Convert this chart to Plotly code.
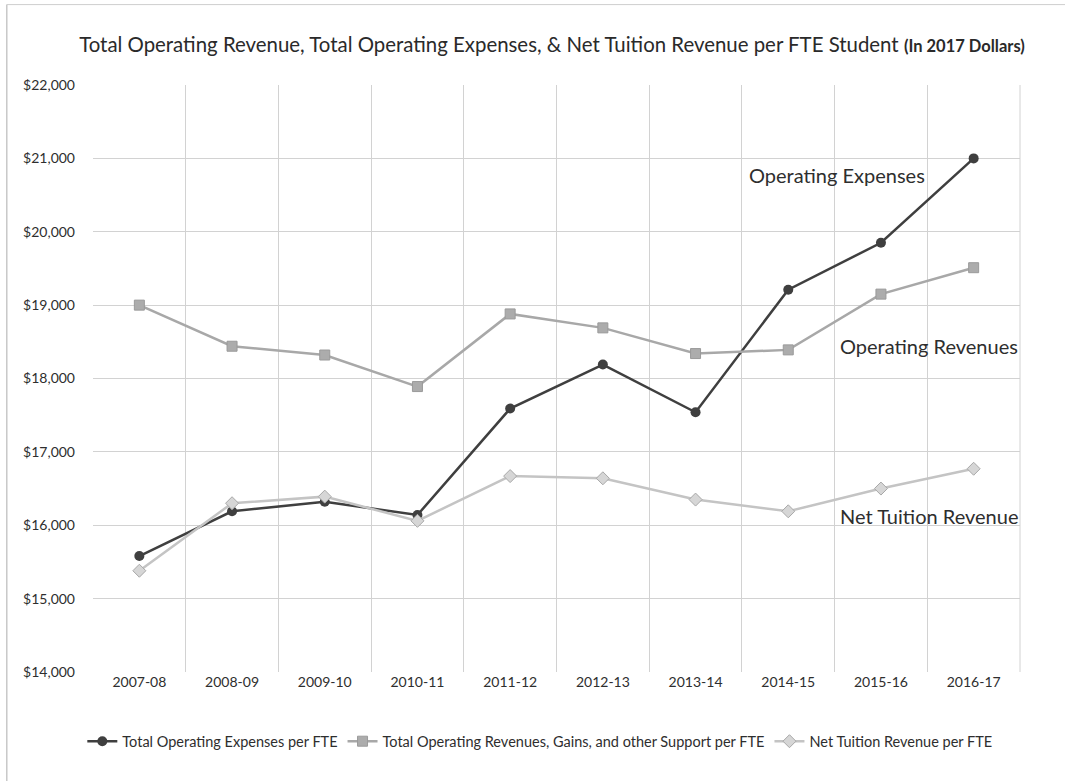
import plotly.graph_objects as go

# Academic years and per-FTE values (2017 dollars)
years = ["2007-08", "2008-09", "2009-10", "2010-11", "2011-12",
         "2012-13", "2013-14", "2014-15", "2015-16", "2016-17"]
operating_expenses = [15580, 16190, 16320, 16140, 17590,
                      18190, 17540, 19210, 19850, 21000]
operating_revenues = [19000, 18440, 18320, 17890, 18880,
                      18690, 18340, 18390, 19150, 19510]
net_tuition_revenue = [15380, 16300, 16390, 16060, 16670,
                       16640, 16350, 16190, 16500, 16770]

y_ticks = [14000, 15000, 16000, 17000, 18000, 19000, 20000, 21000, 22000]

FONT = "Lato, 'Open Sans', sans-serif"
TEXT = "#2e2e2e"

fig = go.Figure()

fig.add_trace(go.Scatter(
    x=years, y=operating_expenses, name="Total Operating Expenses per FTE",
    mode="lines+markers",
    line=dict(color="#3f3f3f", width=2.5),
    marker=dict(symbol="circle", size=10, color="#3f3f3f"),
))
fig.add_trace(go.Scatter(
    x=years, y=operating_revenues,
    name="Total Operating Revenues, Gains, and other Support per FTE",
    mode="lines+markers",
    line=dict(color="#a8a8a8", width=2.5),
    marker=dict(symbol="square", size=10, color="#acacac",
                line=dict(color="#9a9a9a", width=1)),
))
fig.add_trace(go.Scatter(
    x=years, y=net_tuition_revenue, name="Net Tuition Revenue per FTE",
    mode="lines+markers",
    line=dict(color="#c4c4c4", width=2.5),
    marker=dict(symbol="diamond", size=10, color="#d6d6d6",
                line=dict(color="#a8a8a8", width=1)),
))

# Series labels placed inside the plot
labels = [
    ("Operating Expenses", 20780, "left", 6.55),
    ("Operating Revenues", 18440, "right", 9.5),
    ("Net Tuition Revenue", 16120, "right", 9.5),
]
for text, yv, anchor, xv in labels:
    fig.add_annotation(
        x=xv, y=yv, xref="x", yref="y", text=text, showarrow=False,
        xanchor=anchor, yanchor="middle",
        font=dict(family=FONT, size=20, color=TEXT),
    )

# Faint outer frame of the chart (left and top edges)
fig.add_shape(type="line", xref="paper", yref="paper",
              x0=-0.093, x1=-0.093, y0=-0.19, y1=1.137,
              line=dict(color="#c8c8c8", width=1.5))
fig.add_shape(type="line", xref="paper", yref="paper",
              x0=-0.093, x1=1.06, y0=1.137, y1=1.137,
              line=dict(color="#cfcfcf", width=1))

fig.update_layout(
    width=1065, height=781,
    margin=dict(l=93, r=45, t=85, b=109),
    paper_bgcolor="white", plot_bgcolor="white",
    font=dict(family=FONT, size=14, color=TEXT),
    title=dict(
        text="Total Operating Revenue, Total Operating Expenses, &amp; Net Tuition Revenue "
             "per FTE Student <span style='font-size:16.5px'><b>(In 2017 Dollars)</b></span>",
        x=552 / 1065, xanchor="center", y=1 - 45 / 781, yanchor="middle",
        font=dict(family=FONT, size=20.4, color="#2a2a2a"),
    ),
    xaxis=dict(
        type="category", categoryorder="array", categoryarray=years,
        range=[-0.5, 9.5], tickson="boundaries",
        showgrid=True, gridcolor="#d2d2d2", gridwidth=1,
        ticks="", showline=False, zeroline=False,
        tickfont=dict(family=FONT, size=14, color=TEXT),
    ),
    yaxis=dict(
        range=[14000, 22000], tickvals=y_ticks,
        ticktext=[f"${v:,}" for v in y_ticks],
        showgrid=True, gridcolor="#d2d2d2", gridwidth=1,
        ticks="", showline=False, zeroline=False,
        tickfont=dict(family=FONT, size=14, color=TEXT),
        ticklabelstandoff=17,
    ),
    legend=dict(
        orientation="h", x=0.482, xanchor="center",
        y=-0.118, yanchor="middle",
        font=dict(family=FONT, size=14.5, color=TEXT),
        tracegroupgap=0,
    ),
    showlegend=True,
)

# Right edge line of the plotting area
fig.add_shape(type="line", xref="paper", yref="paper",
              x0=1, x1=1, y0=0, y1=1, line=dict(color="#d2d2d2", width=1))

fig.write_html("out.html")
